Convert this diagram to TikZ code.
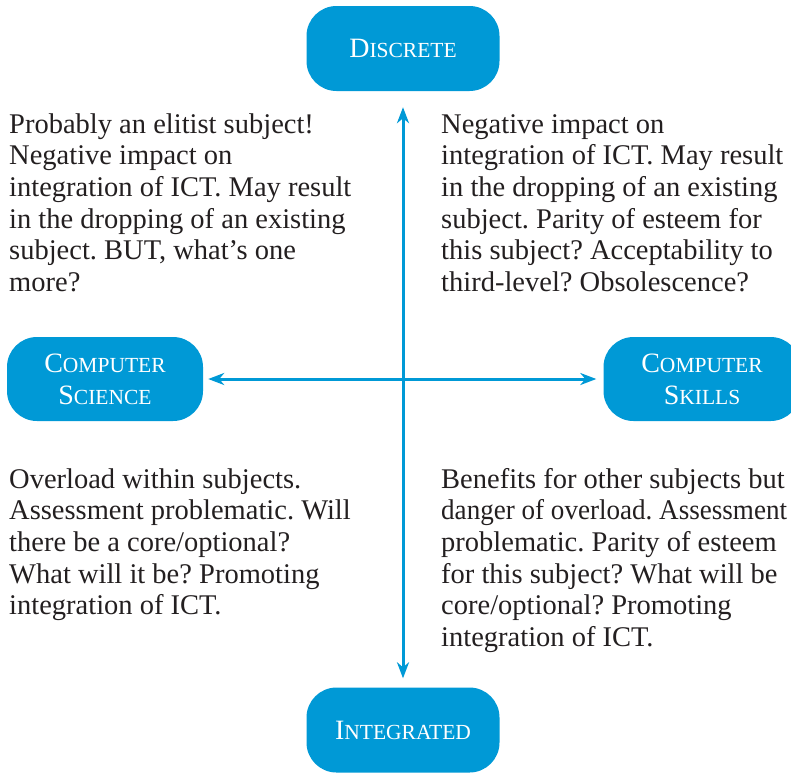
\documentclass[tikz,border=0pt]{standalone}
\usepackage{fontspec}
\usepackage{graphicx}
\setmainfont{Liberation Serif}
\usetikzlibrary{arrows.meta}
\definecolor{boxblue}{RGB}{0,153,214}
\definecolor{inkgray}{RGB}{35,31,32}
\newcommand{\capsc}[2]{{\fontsize{28}{32}\selectfont #1}{\fontsize{21.5}{32}\selectfont #2}}
\newcommand{\bodytext}[1]{\parbox[t]{500pt}{\fontsize{28.5}{31.7}\selectfont\frenchspacing\raggedright #1}}
\begin{document}
\begin{tikzpicture}[x=1pt,y=-1pt,
  catbox/.style={fill=boxblue, rounded corners=30pt, minimum width=193pt, minimum height=85pt,
    text=white, align=center, inner sep=0pt, font=\fontsize{28}{32}\selectfont},
  bodynode/.style={anchor=base west, inner sep=0pt, text=inkgray},
  link/.style={boxblue, line width=3pt, {Stealth[length=16pt,width=12pt,inset=5pt]}-{Stealth[length=16pt,width=12pt,inset=5pt]}}]
\useasboundingbox (0,0) rectangle (791,772);
\node[catbox] (disc) at (403,48.5) {\capsc{D}{ISCRETE}};
\node[catbox] (integ) at (403,730) {\capsc{I}{NTEGRATED}};
\node[catbox, minimum width=196pt, minimum height=84pt] (cs) at (105,379) {\capsc{C}{OMPUTER}\\\capsc{S}{CIENCE}};
\node[catbox, minimum width=197pt, minimum height=84pt] (sk) at (702,379) {\capsc{C}{OMPUTER}\\\capsc{S}{KILLS}};
\draw[link, shorten <=16pt, shorten >=9pt] (disc.south) -- (integ.north);
\draw[link, shorten <=5pt, shorten >=7pt] (cs.east) -- (sk.west);
\node[bodynode] (tl) at (9,133) {\bodytext{Probably an elitist subject!\\Negative impact on\\integration of ICT. May result\\in the dropping of an existing\\subject. BUT, what’s one\\more?}};
\node[bodynode] (tr) at (441,133) {\bodytext{Negative impact on\\integration of ICT. May result\\in the dropping of an existing\\subject. Parity of esteem for\\this subject? Acceptability to\\third-level? Obsolescence?}};
\node[bodynode] (bl) at (9,488) {\bodytext{Overload within subjects.\\Assessment problematic. Will\\there be a core/optional?\\What will it be? Promoting\\integration of ICT.}};
\node[bodynode] (br) at (441,488) {\bodytext{Benefits for other subjects but\\\scalebox{0.95}[1]{danger of overload. Assessment}\\problematic. Parity of esteem\\for this subject? What will be\\core/optional? Promoting\\integration of ICT.}};
\end{tikzpicture}
\end{document}
